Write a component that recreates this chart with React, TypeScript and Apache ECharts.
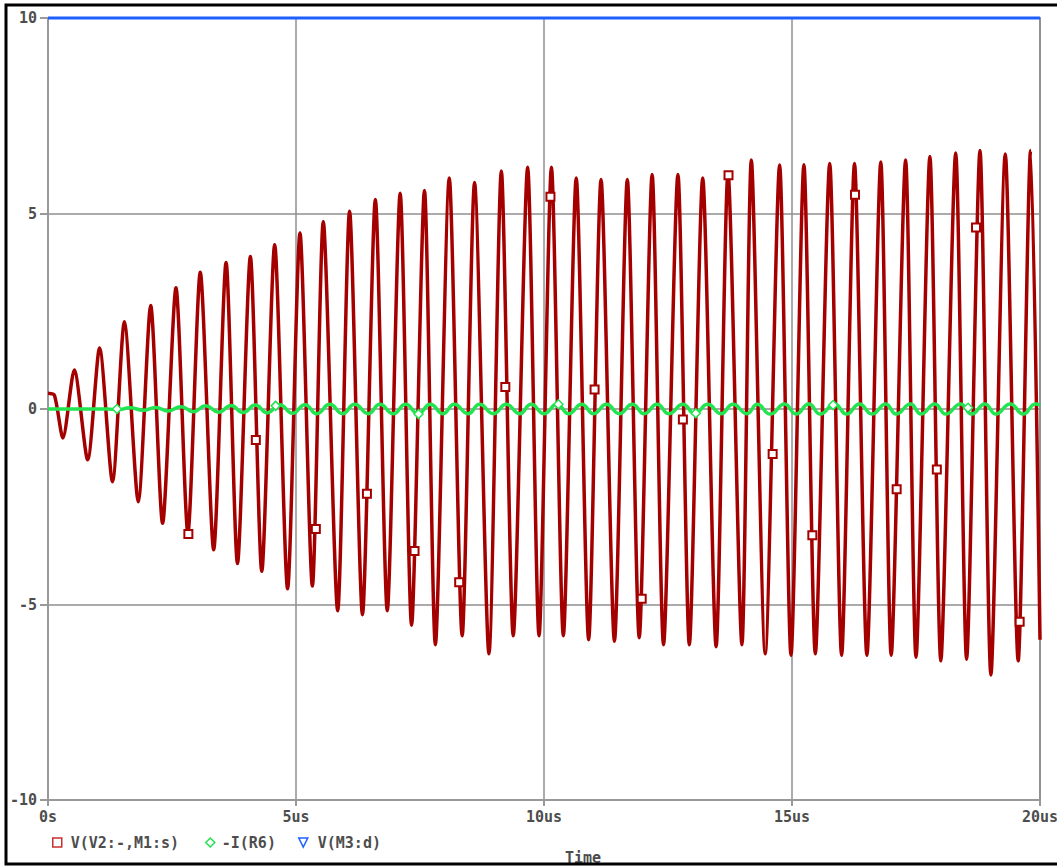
import React, { useEffect, useRef } from "react";
import * as echarts from "echarts";

// ---- data ----
const xTicks = [0, 5, 10, 15, 20]; // us
const yTicks = [-10, -5, 0, 5, 10];

// V(V2:-,M1:s) – extrema of the oscillation (time in us, value in V)
const redT = [
  0.0, 0.13, 0.3, 0.53, 0.8, 1.04, 1.3, 1.54, 1.82, 2.07, 2.31, 2.58, 2.82, 3.07, 3.34, 3.59, 3.82, 4.08, 4.31, 4.57,
  4.83, 5.08, 5.33, 5.55, 5.84, 6.08, 6.34, 6.6, 6.84, 7.1, 7.33, 7.59, 7.81, 8.09, 8.35, 8.6, 8.89, 9.14, 9.38, 9.67,
  9.9, 10.15, 10.39, 10.65, 10.9, 11.15, 11.42, 11.68, 11.92, 12.18, 12.41, 12.7, 12.93, 13.2, 13.47, 13.71, 13.99,
  14.18, 14.46, 14.75, 14.98, 15.24, 15.47, 15.76, 16.0, 16.26, 16.51, 16.79, 17.0, 17.29, 17.5, 17.78, 18.0, 18.3,
  18.52, 18.79, 19.01, 19.3, 19.56, 19.81, 20.0,
];
const redV = [
  0.4, 0.35, -0.74, 1.0, -1.3, 1.56, -1.86, 2.23, -2.37, 2.65, -2.92, 3.1, -3.17, 3.5, -3.6, 3.75, -3.95, 3.9, -4.15,
  4.2, -4.6, 4.5, -4.53, 4.79, -5.16, 5.06, -5.26, 5.36, -5.16, 5.52, -5.53, 5.59, -6.03, 5.91, -5.8, 5.79, -6.26, 6.09,
  -5.8, 6.18, -5.8, 6.18, -5.8, 5.91, -5.9, 5.87, -5.94, 5.87, -5.85, 6.0, -6.03, 6.0, -6.03, 5.91, -6.08, 6.05, -6.03,
  6.37, -6.26, 6.24, -6.3, 6.25, -6.26, 6.28, -6.3, 6.28, -6.3, 6.32, -6.3, 6.37, -6.35, 6.46, -6.44, 6.55, -6.4, 6.61,
  -6.8, 6.52, -6.44, 6.61, -5.9,
];
const redMarkT = [2.83, 4.19, 5.4, 6.43, 7.39, 8.29, 9.22, 10.13, 11.02, 11.97, 12.8, 13.72, 14.61, 15.41, 16.27, 17.11, 17.92, 18.71, 19.59];
const redMarkV = [-3.2, -0.79, -3.07, -2.17, -3.63, -4.43, 0.56, 5.43, 0.5, -4.85, -0.27, 5.98, -1.15, -3.23, 5.48, -2.05, -1.55, 4.64, -5.44];

// -I(R6) – small ripple around zero
const greenT = [
  0, 1.2, 1.4, 1.65, 1.92, 2.17, 2.42, 2.68, 2.93, 3.18, 3.44, 3.69, 3.93, 4.18, 4.42, 4.67, 4.93, 5.18, 5.42, 5.68,
  5.94, 6.18, 6.46, 6.69, 6.96, 7.21, 7.46, 7.71, 7.96, 8.19, 8.47, 8.7, 8.98, 9.24, 9.51, 9.74, 10.0, 10.26, 10.5,
  10.76, 11.0, 11.26, 11.52, 11.78, 12.02, 12.28, 12.52, 12.8, 13.04, 13.3, 13.57, 13.81, 14.09, 14.3, 14.56, 14.85,
  15.08, 15.34, 15.57, 15.86, 16.1, 16.36, 16.61, 16.89, 17.1, 17.39, 17.6, 17.88, 18.1, 18.4, 18.62, 18.89, 19.11,
  19.4, 19.66, 19.91, 20.0,
];
const greenV = [
  0, 0, -0.02, 0.03, -0.03, 0.04, -0.05, 0.06, -0.07, 0.08, -0.08, 0.09, -0.09, 0.1, -0.1, 0.11, -0.11, 0.11, -0.12,
  0.12, -0.12, 0.12, -0.12, 0.12, -0.12, 0.12, -0.12, 0.12, -0.12, 0.12, -0.12, 0.12, -0.12, 0.12, -0.12, 0.12, -0.12,
  0.12, -0.12, 0.12, -0.12, 0.12, -0.12, 0.12, -0.12, 0.12, -0.12, 0.12, -0.12, 0.12, -0.12, 0.12, -0.12, 0.12, -0.13,
  0.13, -0.13, 0.13, -0.13, 0.13, -0.13, 0.13, -0.13, 0.13, -0.13, 0.13, -0.13, 0.13, -0.13, 0.13, -0.13, 0.13, -0.13,
  0.13, -0.13, 0.13, 0.1,
];
const greenMarkT = [1.39, 4.59, 7.47, 10.29, 13.06, 15.83, 18.55];
const greenMarkV = [0.0, 0.08, -0.13, 0.12, -0.11, 0.1, 0.03];

// V(M3:d) – constant
const blueT = [0, 20];
const blueV = [10, 10];

const seriesNames = ["V(V2:-,M1:s)", "-I(R6)", "V(M3:d)"];

const RED = "#a50000";
const GREEN = "#22e350";
const BLUE = "#1f5fff";
const TXT = "#4d4d4d";
const FONT = "DejaVu Sans Mono";

const zip = (a: number[], b: number[]) => a.map((t, i) => [t, b[i]]);

export default function App() {
  const ref = useRef<HTMLDivElement>(null);
  useEffect(() => {
    if (!ref.current) return;
    const chart = echarts.init(ref.current, undefined, { renderer: "svg" });
    const textStyle = { color: TXT, fontFamily: FONT, fontWeight: "bold" as const, fontSize: 15 };
    const mkLegend = (name: string, left: number, icon: string, color: string, pad: number) => ({
      data: [{ name, icon, itemStyle: { color: "#fff", borderColor: color, borderWidth: 1.5 } }],
      left,
      top: 835,
      padding: 0,
      itemWidth: 9,
      itemHeight: 9,
      selectedMode: false,
      textStyle: { ...textStyle, padding: [0, 0, 0, pad] },
    });
    chart.setOption({
      animation: false,
      backgroundColor: "#fff",
      grid: {
        left: 48,
        right: 17,
        top: 18,
        bottom: 67,
        show: true,
        borderColor: "#999",
        borderWidth: 2,
        containLabel: false,
        outerBoundsMode: "none",
      },
      xAxis: {
        type: "value",
        min: xTicks[0],
        max: xTicks[xTicks.length - 1],
        interval: 5,
        axisLine: { show: true, onZero: false, lineStyle: { color: "#999", width: 2 } },
        axisTick: { show: true, length: 6, lineStyle: { color: "#999", width: 2 } },
        splitLine: { show: true, lineStyle: { color: "#8f8f8f", width: 1.5 } },
        axisLabel: {
          ...textStyle,
          margin: 9,
          formatter: (v: number) => (v === 0 ? "0s" : `${v}us`),
        },
      },
      yAxis: {
        type: "value",
        min: yTicks[0],
        max: yTicks[yTicks.length - 1],
        interval: 5,
        axisLine: { show: true, lineStyle: { color: "#999", width: 2 } },
        axisTick: { show: true, length: 8, lineStyle: { color: "#999", width: 2 } },
        splitLine: { show: true, lineStyle: { color: "#8f8f8f", width: 1.5 } },
        axisLabel: { ...textStyle, margin: 11 },
      },
      legend: [
        mkLegend(seriesNames[0], 52, "rect", "#c83030", 4),
        mkLegend(seriesNames[1], 205, "diamond", GREEN, 2),
        mkLegend(seriesNames[2], 298, "path://M0,0L10,0L5,10Z", BLUE, 5),
      ],
      series: [
        {
          name: seriesNames[0],
          type: "line",
          data: zip(redT, redV),
          showSymbol: false,
          smooth: 0.25,
          lineStyle: { color: RED, width: 3.5 },
          itemStyle: { color: RED },
          z: 2,
        },
        {
          name: seriesNames[1],
          type: "line",
          data: zip(greenT, greenV),
          showSymbol: false,
          smooth: 0.5,
          lineStyle: { color: GREEN, width: 3.5 },
          itemStyle: { color: GREEN },
          z: 3,
        },
        {
          name: seriesNames[2],
          type: "line",
          data: zip(blueT, blueV),
          showSymbol: false,
          clip: false,
          lineStyle: { color: BLUE, width: 3 },
          itemStyle: { color: BLUE },
          z: 4,
        },
        {
          name: seriesNames[0],
          type: "scatter",
          data: zip(redMarkT, redMarkV),
          symbol: "rect",
          symbolSize: 8,
          itemStyle: { color: "#fff", borderColor: RED, borderWidth: 2, opacity: 1 },
          z: 5,
        },
        {
          name: seriesNames[1],
          type: "scatter",
          data: zip(greenMarkT, greenMarkV),
          symbol: "diamond",
          symbolSize: 9,
          itemStyle: { color: "#fff", borderColor: GREEN, borderWidth: 1.5, opacity: 1 },
          z: 5,
        },
      ],
      graphic: [
        {
          type: "text",
          left: 565,
          top: 850,
          style: { text: "Time", fill: TXT, font: `bold 15px "${FONT}"` },
          z: 10,
        },
        {
          type: "rect",
          shape: { x: 6, y: 5, width: 1060, height: 859 },
          style: { fill: "none", stroke: "#000", lineWidth: 3 },
          z: 100,
          silent: true,
        },
      ],
    });
    return () => chart.dispose();
  }, []);
  return (
    <div
      ref={ref}
      style={{ position: "fixed", left: 0, top: 0, width: 1057, height: 867, background: "#fff" }}
    />
  );
}
